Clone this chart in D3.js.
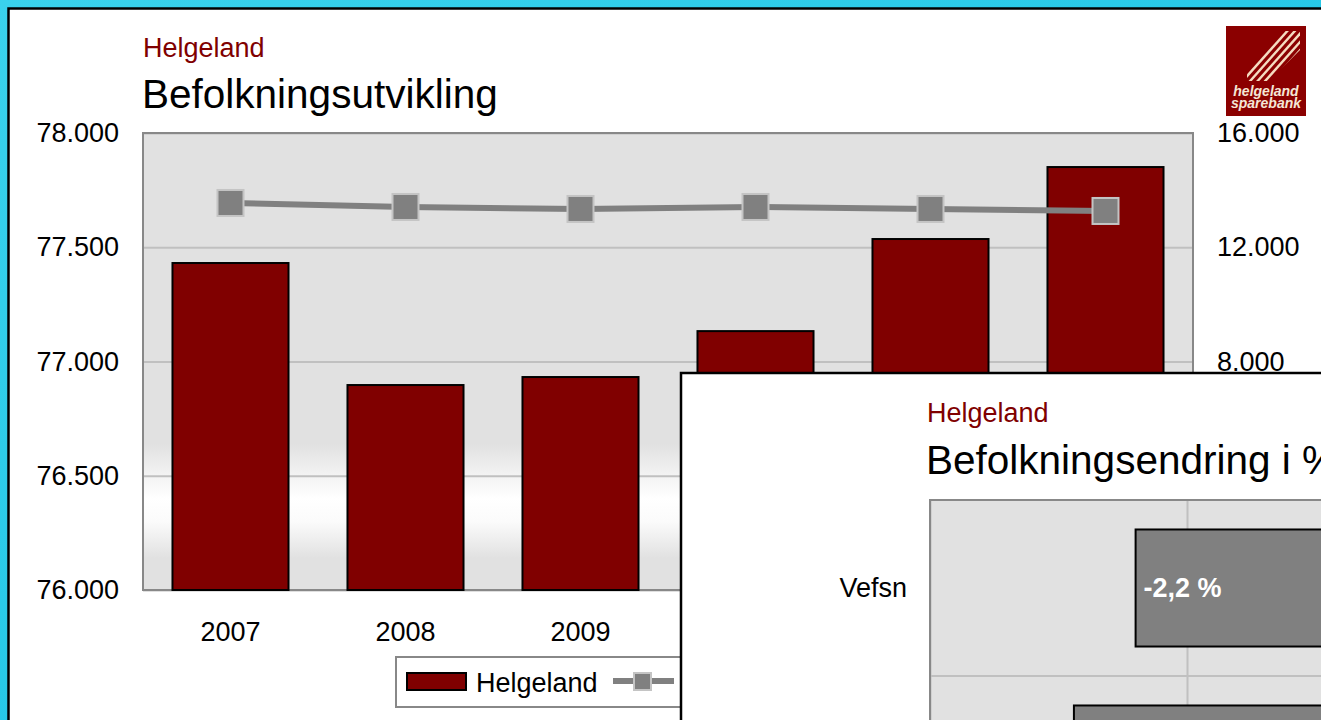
<!DOCTYPE html>
<html>
<head>
<meta charset="utf-8">
<script src="https://cdn.jsdelivr.net/npm/d3@7"></script>
<style>
  body { margin: 0; overflow: hidden; }
  svg { display: block; font-family: "Liberation Sans", Arial, sans-serif; }
  .axis .domain { display: none; }
</style>
</head>
<body>
<svg id="chart" width="1321" height="720"></svg>
<script>
// data
var years = ["2007", "2008", "2009", "2010", "2011", "2012"];
var helgeland = [77431, 76897, 76932, 77133, 77536, 77851];
var vefsn = [13550, 13410, 13340, 13410, 13340, 13270];
var leftTicks = [76000, 76500, 77000, 77500, 78000];
var rightTicks = [0, 4000, 8000, 12000, 16000];

var changeCats = ["Vefsn", "Hemnes"];
var changeVals = [-2.2, -2.44];
var changeTicks = [-3, -2, -1, 0];

var no = d3.formatLocale({decimal: ",", thousands: ".", grouping: [3], currency: ["", " kr"], minus: "-"});
var fmtInt = no.format(",d");
var fmtPct = function(v){ return no.format(".1f")(v) + " %"; };

var svg = d3.select("#chart");
var defs = svg.append("defs");

var bg = defs.append("linearGradient").attr("id", "bgGrad")
  .attr("x1", 0).attr("y1", 0).attr("x2", 1).attr("y2", 1);
bg.append("stop").attr("offset", 0).attr("stop-color", "#3ad2ec");
bg.append("stop").attr("offset", 1).attr("stop-color", "#14bfe3");

var plotGrad = defs.append("linearGradient").attr("id", "plotGrad")
  .attr("x1", 0).attr("y1", 0).attr("x2", 0).attr("y2", 1);
[[0, "#e1e1e1"], [0.68, "#e1e1e1"], [0.75, "#f3f3f3"], [0.8, "#ffffff"],
 [0.85, "#fbfbfb"], [0.93, "#e1e1e1"], [1, "#e1e1e1"]].forEach(function(s){
  plotGrad.append("stop").attr("offset", s[0]).attr("stop-color", s[1]);
});

// outer background + window
svg.append("rect").attr("width", 1321).attr("height", 720).attr("fill", "url(#bgGrad)");
svg.append("rect").attr("x", 8.5).attr("y", 8.5).attr("width", 1400).attr("height", 800)
  .attr("fill", "#fff").attr("stroke", "#000").attr("stroke-width", 2.5);

// ---------- chart 1 ----------
var pLeft = 143, pRight = 1193, pTop = 133, pBottom = 590;

var x = d3.scaleBand().domain(years).range([pLeft, pRight]).paddingInner(0.337).paddingOuter(0.1685);
var y1 = d3.scaleLinear().domain([76000, 78000]).range([pBottom, pTop]);
var y2 = d3.scaleLinear().domain([0, 16000]).range([pBottom, pTop]);

svg.append("text").attr("x", 143).attr("y", 57).attr("font-size", 27).attr("fill", "#800000").text("Helgeland");
svg.append("text").attr("x", 142).attr("y", 108).attr("font-size", 40.5).attr("fill", "#000").text("Befolkningsutvikling");

svg.append("rect").attr("x", pLeft).attr("y", pTop).attr("width", pRight - pLeft).attr("height", pBottom - pTop)
  .attr("fill", "url(#plotGrad)");

svg.append("g").attr("class", "axis").attr("transform", "translate(" + pLeft + ",0)")
  .call(d3.axisLeft(y1).tickValues(leftTicks).tickSize(-(pRight - pLeft)).tickFormat(""))
  .selectAll("line").attr("stroke", "#c0c0c0").attr("stroke-width", 2);

svg.append("rect").attr("x", pLeft).attr("y", pTop).attr("width", pRight - pLeft).attr("height", pBottom - pTop)
  .attr("fill", "none").attr("stroke", "#888").attr("stroke-width", 2);

svg.append("g").selectAll("rect").data(years).enter().append("rect")
  .attr("x", function(d){ return x(d); })
  .attr("y", function(d, i){ return y1(helgeland[i]); })
  .attr("width", x.bandwidth())
  .attr("height", function(d, i){ return pBottom - y1(helgeland[i]); })
  .attr("fill", "#800000").attr("stroke", "#000").attr("stroke-width", 2);

var line = d3.line()
  .x(function(d, i){ return x(years[i]) + x.bandwidth() / 2; })
  .y(function(d){ return y2(d); });
svg.append("path").datum(vefsn).attr("d", line)
  .attr("fill", "none").attr("stroke", "#808080").attr("stroke-width", 6);

svg.append("g").selectAll("rect").data(vefsn).enter().append("rect")
  .attr("x", function(d, i){ return x(years[i]) + x.bandwidth() / 2 - 13; })
  .attr("y", function(d){ return y2(d) - 13; })
  .attr("width", 26).attr("height", 26)
  .attr("fill", "#808080").attr("stroke", "#c4c4c4").attr("stroke-width", 2);

var la = svg.append("g").attr("class", "axis").attr("transform", "translate(" + pLeft + ",0)")
  .call(d3.axisLeft(y1).tickValues(leftTicks).tickSize(0).tickPadding(24).tickFormat(fmtInt));
la.selectAll("text").attr("font-size", 27).attr("fill", "#000").attr("font-family", "Liberation Sans, Arial");

var ra = svg.append("g").attr("class", "axis").attr("transform", "translate(" + pRight + ",0)")
  .call(d3.axisRight(y2).tickValues(rightTicks).tickSize(0).tickPadding(24).tickFormat(fmtInt));
ra.selectAll("text").attr("font-size", 27).attr("fill", "#000").attr("font-family", "Liberation Sans, Arial");

var xa = svg.append("g").attr("class", "axis").attr("transform", "translate(0," + pBottom + ")")
  .call(d3.axisBottom(x).tickSize(0).tickPadding(32));
xa.selectAll("text").attr("font-size", 27).attr("fill", "#000").attr("font-family", "Liberation Sans, Arial");

// legend
var lg = svg.append("g");
lg.append("rect").attr("x", 396).attr("y", 657).attr("width", 420).attr("height", 50)
  .attr("fill", "#fff").attr("stroke", "#888").attr("stroke-width", 2);
lg.append("rect").attr("x", 407).attr("y", 673).attr("width", 59).attr("height", 17)
  .attr("fill", "#800000").attr("stroke", "#000").attr("stroke-width", 2);
lg.append("text").attr("x", 476).attr("y", 692).attr("font-size", 27).text("Helgeland");
lg.append("line").attr("x1", 613).attr("x2", 674).attr("y1", 681).attr("y2", 681)
  .attr("stroke", "#808080").attr("stroke-width", 6);
lg.append("rect").attr("x", 634).attr("y", 673).attr("width", 17).attr("height", 17)
  .attr("fill", "#808080").attr("stroke", "#c4c4c4").attr("stroke-width", 2);
lg.append("text").attr("x", 684).attr("y", 692).attr("font-size", 27).text("Vefsn");

// logo
var logo = svg.append("g");
logo.append("rect").attr("x", 1226).attr("y", 26).attr("width", 80).attr("height", 90).attr("fill", "#8b0000");
defs.append("clipPath").attr("id", "stripeClip").append("polygon")
  .attr("points", "1270,31 1300,31 1300,50 1269,81 1247,81 1247,62");
var stripes = logo.append("g").attr("clip-path", "url(#stripeClip)");
d3.range(9).forEach(function(k){
  var ox = 1240 + k * 7.5;
  stripes.append("line").attr("x1", ox).attr("y1", 84).attr("x2", ox + 50).attr("y2", 28)
    .attr("stroke", "#f5dcc0").attr("stroke-width", 2.4);
});
logo.append("text").attr("x", 1266).attr("y", 96).attr("text-anchor", "middle")
  .attr("font-size", 14).attr("font-style", "italic").attr("font-weight", "bold").attr("fill", "#f5e6d6").text("helgeland");
logo.append("text").attr("x", 1266).attr("y", 108).attr("text-anchor", "middle")
  .attr("font-size", 14).attr("font-style", "italic").attr("font-weight", "bold").attr("fill", "#f5e6d6").text("sparebank");

// ---------- chart 2 (overlapping window) ----------
svg.append("rect").attr("x", 681).attr("y", 373).attr("width", 800).attr("height", 500)
  .attr("fill", "#fff").attr("stroke", "#000").attr("stroke-width", 2.5);

svg.append("text").attr("x", 927).attr("y", 422).attr("font-size", 27).attr("fill", "#800000").text("Helgeland");
svg.append("text").attr("x", 926).attr("y", 474).attr("font-size", 40.5).attr("fill", "#000").text("Befolkningsendring i %");

var l2 = 930, t2 = 500;
var cx = d3.scaleLinear().domain([-3, 0]).range([l2, l2 + 3 * 257]);
var cy = d3.scaleBand().domain(changeCats).range([t2, t2 + 176 * changeCats.length])
  .paddingInner(0.335).paddingOuter(0.1675);
var r2 = cx(0), b2 = t2 + 176 * changeCats.length;

svg.append("rect").attr("x", l2).attr("y", t2).attr("width", r2 - l2).attr("height", b2 - t2)
  .attr("fill", "#e1e1e1");

svg.append("g").attr("class", "axis").attr("transform", "translate(0," + t2 + ")")
  .call(d3.axisBottom(cx).tickValues(changeTicks).tickSize(b2 - t2).tickFormat(""))
  .selectAll("line").attr("stroke", "#c0c0c0").attr("stroke-width", 2);

svg.append("g").selectAll("line").data(changeCats.slice(1)).enter().append("line")
  .attr("x1", l2).attr("x2", r2)
  .attr("y1", function(d){ return cy(d) - cy.step() * cy.paddingInner() / 2; })
  .attr("y2", function(d){ return cy(d) - cy.step() * cy.paddingInner() / 2; })
  .attr("stroke", "#c0c0c0").attr("stroke-width", 2);

svg.append("path").attr("d", "M" + r2 + "," + t2 + "H" + l2 + "V" + b2)
  .attr("fill", "none").attr("stroke", "#888").attr("stroke-width", 2);

svg.append("g").selectAll("rect").data(changeCats).enter().append("rect")
  .attr("x", function(d, i){ return cx(changeVals[i]); })
  .attr("y", function(d){ return cy(d); })
  .attr("width", function(d, i){ return cx(0) - cx(changeVals[i]); })
  .attr("height", cy.bandwidth())
  .attr("fill", "#808080").attr("stroke", "#000").attr("stroke-width", 2);

svg.append("g").selectAll("text").data(changeCats).enter().append("text")
  .attr("x", function(d, i){ return cx(changeVals[i]) + 8; })
  .attr("y", function(d){ return cy(d) + cy.bandwidth() / 2; })
  .attr("dy", "0.35em").attr("font-size", 27).attr("font-weight", "bold").attr("fill", "#fff")
  .text(function(d, i){ return fmtPct(changeVals[i]); });

var ya2 = svg.append("g").attr("class", "axis").attr("transform", "translate(" + l2 + ",0)")
  .call(d3.axisLeft(cy).tickSize(0).tickPadding(23));
ya2.selectAll("text").attr("font-size", 27).attr("fill", "#000").attr("font-family", "Liberation Sans, Arial");
</script>
</body>
</html>
